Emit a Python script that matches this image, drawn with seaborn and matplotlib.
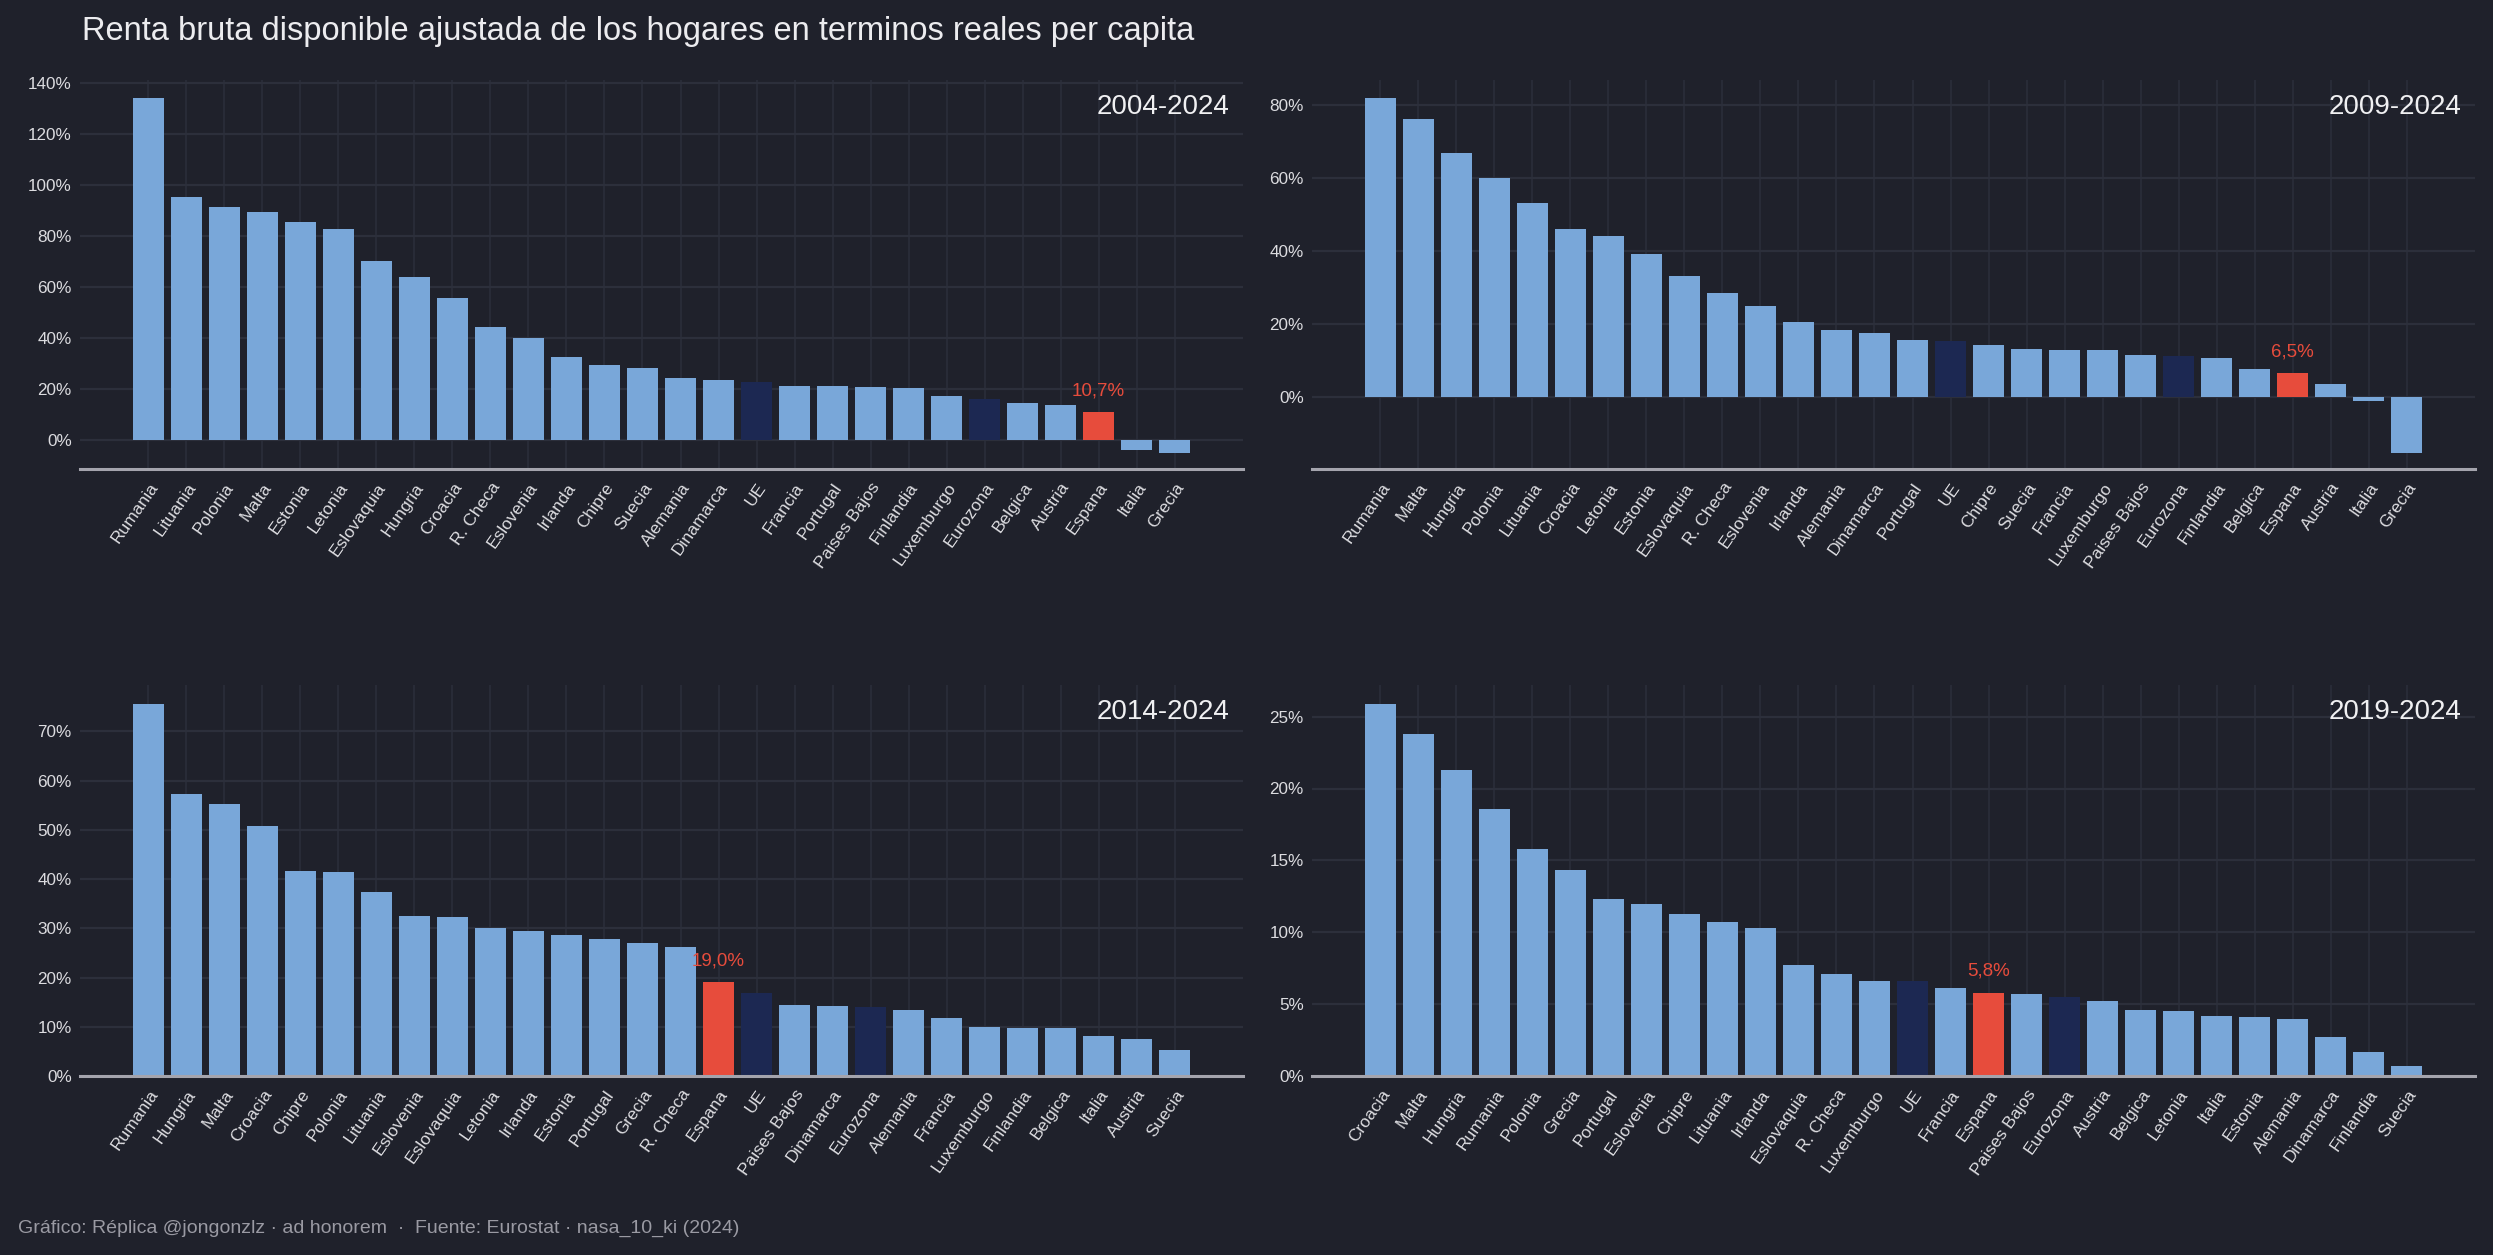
import numpy as np
import pandas as pd
import matplotlib
matplotlib.use("Agg")
import matplotlib.pyplot as plt
import seaborn as sns

# ---------------------------------------------------------------------------
# Data (read off the reference chart), % change of real adjusted GDI per capita
# ---------------------------------------------------------------------------
countries_04 = ["Rumania", "Lituania", "Polonia", "Malta", "Estonia", "Letonia", "Eslovaquia",
                "Hungria", "Croacia", "R. Checa", "Eslovenia", "Irlanda", "Chipre", "Suecia",
                "Alemania", "Dinamarca", "UE", "Francia", "Portugal", "Paises Bajos", "Finlandia",
                "Luxemburgo", "Eurozona", "Belgica", "Austria", "Espana", "Italia", "Grecia"]
values_04 = [134.0, 95.2, 91.3, 89.3, 85.4, 82.7, 70.1, 63.9, 55.6, 44.3, 40.0, 32.5, 29.4, 28.2,
             24.3, 23.4, 22.7, 21.1, 21.0, 20.7, 20.3, 17.2, 16.0, 14.5, 13.7, 10.7, -3.9, -5.1]

countries_09 = ["Rumania", "Malta", "Hungria", "Polonia", "Lituania", "Croacia", "Letonia",
                "Estonia", "Eslovaquia", "R. Checa", "Eslovenia", "Irlanda", "Alemania", "Dinamarca",
                "Portugal", "UE", "Chipre", "Suecia", "Francia", "Luxemburgo", "Paises Bajos",
                "Eurozona", "Finlandia", "Belgica", "Espana", "Austria", "Italia", "Grecia"]
values_09 = [81.8, 76.1, 66.8, 60.0, 53.1, 46.0, 44.1, 39.2, 33.2, 28.6, 25.0, 20.7, 18.5, 17.7,
             15.7, 15.5, 14.4, 13.3, 13.0, 13.0, 11.6, 11.4, 10.8, 7.8, 6.5, 3.7, -0.9, -15.1]

countries_14 = ["Rumania", "Hungria", "Malta", "Croacia", "Chipre", "Polonia", "Lituania",
                "Eslovenia", "Eslovaquia", "Letonia", "Irlanda", "Estonia", "Portugal", "Grecia",
                "R. Checa", "Espana", "UE", "Paises Bajos", "Dinamarca", "Eurozona", "Alemania",
                "Francia", "Luxemburgo", "Finlandia", "Belgica", "Italia", "Austria", "Suecia"]
values_14 = [75.5, 57.2, 55.2, 50.7, 41.7, 41.5, 37.4, 32.4, 32.2, 30.1, 29.5, 28.7, 27.9, 27.1,
             26.1, 19.0, 16.9, 14.5, 14.2, 14.0, 13.4, 11.8, 10.0, 9.8, 9.8, 8.1, 7.5, 5.3]

countries_19 = ["Croacia", "Malta", "Hungria", "Rumania", "Polonia", "Grecia", "Portugal",
                "Eslovenia", "Chipre", "Lituania", "Irlanda", "Eslovaquia", "R. Checa", "Luxemburgo",
                "UE", "Francia", "Espana", "Paises Bajos", "Eurozona", "Austria", "Belgica",
                "Letonia", "Italia", "Estonia", "Alemania", "Dinamarca", "Finlandia", "Suecia"]
values_19 = [25.9, 23.8, 21.3, 18.6, 15.8, 14.3, 12.3, 12.0, 11.3, 10.7, 10.3, 7.7, 7.1, 6.6,
             6.6, 6.1, 5.8, 5.7, 5.5, 5.2, 4.6, 4.5, 4.2, 4.1, 4.0, 2.7, 1.7, 0.7]

periods = ["2004-2024", "2009-2024", "2014-2024", "2019-2024"]
y_limits = [(-11.5, 141.0), (-19.6, 86.7), (0, 79.4), (0, 27.2)]
y_ticks = [np.arange(0, 141, 20), np.arange(0, 81, 20), np.arange(0, 71, 10), np.arange(0, 26, 5)]

# ---------------------------------------------------------------------------
# Style
# ---------------------------------------------------------------------------
BG = "#1f212b"
GRID = "#2c2f3b"
LIGHT = "#79a7d9"
NAVY = "#1c2852"
RED = "#e74c3c"
TICK = "#dcdce0"

sns.set_theme(style="dark")
plt.rcParams["font.family"] = ["Liberation Sans", "DejaVu Sans"]

palette = {"pais": LIGHT, "agregado": NAVY, "espana": RED}


def bar_group(name):
    if name == "Espana":
        return "espana"
    if name in ("UE", "Eurozona"):
        return "agregado"
    return "pais"


W, H = 2493, 1255
fig = plt.figure(figsize=(W / 100, H / 100), dpi=100)
fig.patch.set_facecolor(BG)

# axes boxes in pixels: left, top, right, bottom
boxes = [(80, 80, 1243, 469), (1312, 80, 2475, 469),
         (80, 685, 1243, 1076), (1312, 685, 2475, 1076)]

data = [(countries_04, values_04), (countries_09, values_09),
        (countries_14, values_14), (countries_19, values_19)]

for (names, vals), period, ylim, ticks, (l, t, r, b) in zip(data, periods, y_limits, y_ticks, boxes):
    ax = fig.add_axes([l / W, 1 - b / H, (r - l) / W, (b - t) / H])
    ax.set_facecolor(BG)

    df = pd.DataFrame({"pais": names, "valor": vals})
    df["grupo"] = df["pais"].map(bar_group)

    sns.barplot(data=df, x="pais", y="valor", hue="grupo", palette=palette, order=names,
                dodge=False, width=0.8, saturation=1, legend=False, ax=ax,
                linewidth=0, edgecolor="none")

    ax.set_xlim(-1.8, len(names) - 1 + 1.8)
    ax.set_ylim(*ylim)
    ax.set_yticks(ticks)
    ax.set_yticklabels([f"{v:.0f}%" for v in ticks])
    ax.set_xlabel("")
    ax.set_ylabel("")

    ax.set_axisbelow(True)
    ax.yaxis.grid(True, color=GRID, linewidth=1.6)
    ax.xaxis.grid(True, color=GRID, linewidth=1.1)

    for side in ["top", "right", "left"]:
        ax.spines[side].set_visible(False)
    ax.spines["bottom"].set_color("#a4a4ad")
    ax.spines["bottom"].set_linewidth(2.2)

    ax.tick_params(axis="y", length=0, pad=6, labelsize=12.3, labelcolor=TICK)
    ax.tick_params(axis="x", length=0, pad=8, labelsize=12.5, labelcolor=TICK)
    for lab in ax.get_xticklabels():
        lab.set_rotation(55)
        lab.set_ha("right")
        lab.set_rotation_mode("anchor")

    # highlight label for Spain
    i = names.index("Espana")
    v = vals[i]
    ax.annotate(f"{v:.1f}%".replace(".", ","), xy=(i, v), xytext=(0, 13),
                textcoords="offset pixels", ha="center", va="bottom", color=RED, fontsize=13.5)

    ax.annotate(period, xy=(1, 1), xycoords="axes fraction", xytext=(-13, -27),
                textcoords="offset pixels", ha="right", va="center", color="#f0f0f2", fontsize=20)

fig.text(82 / W, 1 - 40 / H, "Renta bruta disponible ajustada de los hogares en terminos reales per capita",
         ha="left", va="baseline", color="#ececef", fontsize=23.5)
fig.text(18 / W, 1 - 1233 / H,
         "Gráfico: Réplica @jongonzlz · ad honorem  ·  Fuente: Eurostat · nasa_10_ki (2024)",
         ha="left", va="baseline", color="#9a9aa3", fontsize=14)

fig.savefig("out.png", dpi=100, facecolor=BG)
plt.close(fig)
